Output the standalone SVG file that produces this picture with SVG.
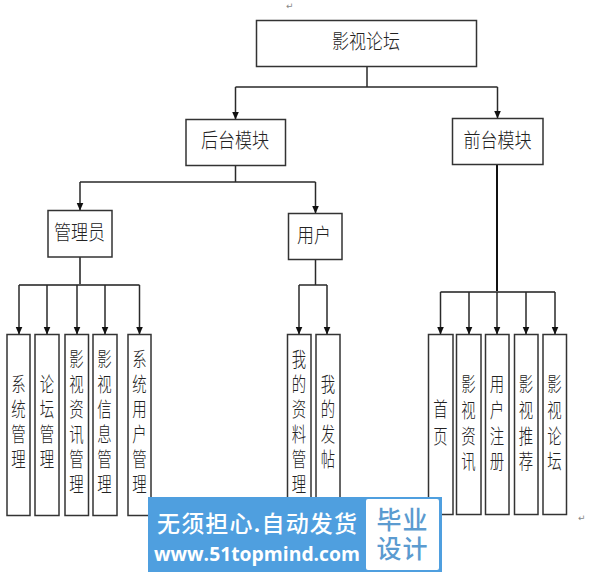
<svg xmlns="http://www.w3.org/2000/svg" width="591" height="572" viewBox="0 0 591 572">
<style>
.b{fill:#fff;stroke:#333;stroke-width:1.5}
.t{font-family:"Noto Sans CJK SC","Liberation Sans",sans-serif;font-size:20px;font-weight:300;fill:#222;text-anchor:middle}
.l{fill:none;stroke:#2a2a2a;stroke-width:1.5}
.a{marker-end:url(#arrow)}
.w{font-family:"Noto Sans CJK SC","Liberation Sans",sans-serif;font-weight:500;fill:#fff}
.v{font-family:"Noto Sans CJK SC",sans-serif;font-size:25px;font-weight:500;fill:#5b9bd0;text-anchor:middle;letter-spacing:1px}
.m{font-family:"DejaVu Sans",sans-serif;font-size:9px;fill:#888}
</style>
<defs><marker id="arrow" markerUnits="userSpaceOnUse" markerWidth="8" markerHeight="11" refX="7.5" refY="3.5" orient="auto"><path d="M0 0L8 3.5L0 7Z" fill="#111"/></marker></defs>
<rect width="591" height="572" fill="#fff"/>
<text class="m" x="286" y="9">↵</text>
<text class="m" x="578" y="521">↵</text>
<g id="connectors">
<path class="l" d="M367 67V87M235.500 87H497.500"/>
<path class="l a" d="M235.500 87V119"/>
<path class="l a" d="M497.500 87V118"/>
<path class="l" d="M235.500 165V182M80 182H315.500"/>
<path class="l a" d="M80 182V210"/>
<path class="l a" d="M315.500 182V213"/>
<path class="l" style="stroke:#555;stroke-width:2" d="M80 257V285M19 285H139.500"/>
<path class="l a" d="M19 285V334"/>
<path class="l a" d="M47 285V334"/>
<path class="l a" d="M77 285V334"/>
<path class="l a" d="M105 285V334"/>
<path class="l a" d="M139.500 285V334"/>
<path class="l" d="M315.500 259V285M299 285H327"/>
<path class="l a" d="M299 285V334"/>
<path class="l a" d="M327 285V334"/>
<path class="l" style="stroke:#111;stroke-width:2" d="M497 164V292"/>
<path class="l" style="stroke:#555;stroke-width:2" d="M440.500 292H555"/>
<path class="l a" d="M440.500 292V334"/>
<path class="l a" d="M469 292V334"/>
<path class="l a" d="M497 292V334"/>
<path class="l a" d="M526 292V334"/>
<path class="l a" d="M555 292V334"/>
</g>
<g id="n-root"><rect class="b" x="256.500" y="20.500" width="220" height="46"/><text class="t" transform="translate(366,0) scale(.85,1)" y="49">影视论坛</text></g>
<g id="n-backend"><rect class="b" x="186" y="119.500" width="99.500" height="46"/><text class="t" transform="translate(235,0) scale(.85,1)" y="148">后台模块</text></g>
<g id="n-frontend"><rect class="b" x="452.500" y="118.500" width="90.500" height="46"/><text class="t" transform="translate(497.500,0) scale(.85,1)" y="148">前台模块</text></g>
<g id="n-admin"><rect class="b" x="48" y="210.500" width="64" height="46.500"/><text class="t" transform="translate(79.500,0) scale(.85,1)" y="240">管理员</text></g>
<g id="n-user"><rect class="b" x="288.500" y="213.500" width="53.500" height="46"/><text class="t" transform="translate(314,0) scale(.85,1)" y="243">用户</text></g>
<g id="n1"><rect class="b" x="7" y="334.500" width="23" height="181"/><text class="t" transform="translate(18.500,0) scale(.72,1)" x="0 0 0 0" y="392 417 442 467">系统管理</text></g>
<g id="n2"><rect class="b" x="35" y="334.500" width="24" height="181"/><text class="t" transform="translate(47,0) scale(.72,1)" x="0 0 0 0" y="392 417 442 467">论坛管理</text></g>
<g id="n3"><rect class="b" x="65" y="334.500" width="23.500" height="181"/><text class="t" transform="translate(76.500,0) scale(.72,1)" x="0 0 0 0 0 0" y="367 392 417 442 467 492">影视资讯管理</text></g>
<g id="n4"><rect class="b" x="93" y="334.500" width="24" height="181"/><text class="t" transform="translate(104.500,0) scale(.72,1)" x="0 0 0 0 0 0" y="367 392 417 442 467 492">影视信息管理</text></g>
<g id="n5"><rect class="b" x="128" y="334.500" width="23" height="181"/><text class="t" transform="translate(139.500,0) scale(.72,1)" x="0 0 0 0 0 0" y="367 392 417 442 467 492">系统用户管理</text></g>
<g id="n6"><rect class="b" x="287.500" y="334.500" width="23.500" height="181"/><text class="t" transform="translate(299,0) scale(.72,1)" x="0 0 0 0 0 0" y="367 392 417 442 467 492">我的资料管理</text></g>
<g id="n7"><rect class="b" x="316" y="334.500" width="24" height="181"/><text class="t" transform="translate(328,0) scale(.72,1)" x="0 0 0 0" y="392 417 442 467">我的发帖</text></g>
<g id="n8"><rect class="b" x="428.500" y="334.500" width="24.500" height="180"/><text class="t" transform="translate(440.500,0) scale(.72,1)" x="0 0" y="417 444">首页</text></g>
<g id="n9"><rect class="b" x="456.500" y="334.500" width="24.500" height="180"/><text class="t" transform="translate(468.500,0) scale(.72,1)" x="0 0 0 0" y="392 418 444 469">影视资讯</text></g>
<g id="n10"><rect class="b" x="485.500" y="334.500" width="23.500" height="180"/><text class="t" transform="translate(497,0) scale(.72,1)" x="0 0 0 0" y="392 418 444 469">用户注册</text></g>
<g id="n11"><rect class="b" x="514.500" y="334.500" width="23.500" height="180"/><text class="t" transform="translate(526,0) scale(.72,1)" x="0 0 0 0" y="392 418 444 469">影视推荐</text></g>
<g id="n12"><rect class="b" x="543" y="334.500" width="23.500" height="180"/><text class="t" transform="translate(554.500,0) scale(.72,1)" x="0 0 0 0" y="392 418 444 469">影视论坛</text></g>
<g id="watermark">
<rect x="148" y="497" width="294" height="75" fill="#4f9fdf"/>
<rect x="366" y="499" width="73" height="71" rx="2" fill="#fff"/>
<text class="w" x="157" y="532" font-size="23" textLength="200" lengthAdjust="spacing">无须担心.自动发货</text>
<text class="w" x="154" y="561" font-size="20" textLength="206" lengthAdjust="spacingAndGlyphs" style="font-family:'Open Sans','Liberation Sans',sans-serif;font-weight:700">www.51topmind.com</text>
<text class="v"><tspan x="402.500" y="529">毕业</tspan><tspan x="402.500" y="558">设计</tspan></text>
</g>
</svg>
